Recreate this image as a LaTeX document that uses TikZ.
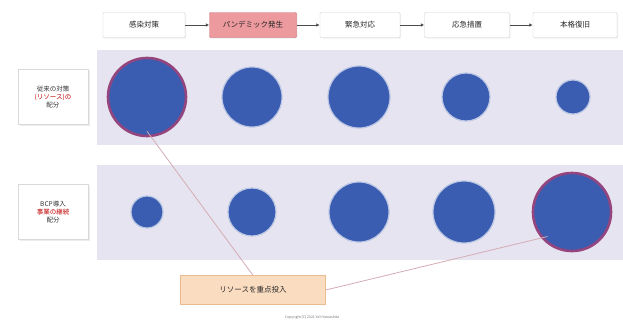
\documentclass[tikz,border=0pt]{standalone}
\usepackage{fontspec}
\setmainfont{Noto Sans CJK JP}
\usetikzlibrary{arrows.meta,shadows}
\definecolor{band}{HTML}{E6E4F0}
\definecolor{dot}{HTML}{3A5DB2}
\definecolor{hot}{HTML}{94457E}
\definecolor{redbox}{HTML}{EC9A9E}
\definecolor{redline}{HTML}{C86A72}
\definecolor{peach}{HTML}{FADCC0}
\definecolor{peachline}{HTML}{E8BC90}
\definecolor{connector}{HTML}{D4ACB4}
\tikzset{
  stepbox/.style={draw=black!18, fill=white, minimum width=82pt, minimum height=25pt, font=\fontsize{7.5}{9}\selectfont, text=black!85, rounded corners=1pt, drop shadow={opacity=0.12, shadow xshift=1pt, shadow yshift=-1pt}},
  hotbox/.style={stepbox, fill=redbox, draw=redline},
  flow/.style={-{Latex[length=3.5pt,width=3.5pt]}, black!70, line width=0.7pt},
  sidebox/.style={draw=black!15, fill=white, minimum width=70pt, minimum height=55pt, align=center, font=\fontsize{6.5}{8}\selectfont, text=black!80, drop shadow={opacity=0.15, shadow xshift=1.5pt, shadow yshift=-1.5pt}},
  res/.style={circle, fill=dot, draw=dot!35!white, line width=1.2pt, inner sep=0pt},
  bigres/.style={circle, fill=dot, draw=hot, line width=2.6pt, inner sep=0pt},
  link/.style={connector, line width=0.8pt},
}
\begin{document}
\begin{tikzpicture}[x=1pt,y=-1pt]
\useasboundingbox (0,0) rectangle (623,324);
\fill[white] (0,0) rectangle (623,324);
% bands
\fill[band] (97,50) rectangle (623,145);
\fill[band] (97,165) rectangle (623,260);
% top flow
\node[stepbox, minimum width=82pt] (s1) at (144,25) {感染対策};
\node[hotbox, minimum width=87pt] (s2) at (253,25) {パンデミック発生};
\node[stepbox, minimum width=80pt] (s3) at (360,25) {緊急対応};
\node[stepbox, minimum width=85pt] (s4) at (467,25) {応急措置};
\node[stepbox, minimum width=84pt] (s5) at (575,25) {本格復旧};
\draw[flow] (s1) -- (s2);
\draw[flow] (s2) -- (s3);
\draw[flow] (s3) -- (s4);
\draw[flow] (s4) -- (s5);
% side labels
\node[sidebox] (l1) at (53,97) {従来の対策\\\textcolor{red!75!black}{(リソース)の}\\配分};
\node[sidebox] (l2) at (53,212) {BCP導入\\\textcolor{red!75!black}{事業の継続}\\配分};
% row 1 circles
\node[bigres, minimum size=78pt] (a1) at (147,97) {};
\node[res, minimum size=60pt] (a2) at (252,97) {};
\node[res, minimum size=62pt] (a3) at (359,97) {};
\node[res, minimum size=48pt] (a4) at (466,97) {};
\node[res, minimum size=34pt] (a5) at (573,97) {};
% row 2 circles
\node[res, minimum size=32pt] (b1) at (147,212) {};
\node[res, minimum size=48pt] (b2) at (252,212) {};
\node[res, minimum size=60pt] (b3) at (359,212) {};
\node[res, minimum size=62pt] (b4) at (464,212) {};
\node[bigres, minimum size=78pt] (b5) at (572,212) {};
% focus note
\node[draw=peachline, fill=peach, minimum width=145pt, minimum height=29pt, font=\fontsize{7.5}{9}\selectfont, text=black!85] (f) at (253,290) {リソースを重点投入};
\draw[link] (a1.south) ++(0,-6) coordinate (a1c) (a1c) -- (f.north);
\draw[link] (b5.south west) ++(4,-4) coordinate (b5c) (b5c) -- (f.east);
\node[font=\fontsize{3.5}{4}\selectfont, text=black!55] (c) at (312,318) {Copyright (C) 2021 Yoh Yamashita};
\end{tikzpicture}
\end{document}
